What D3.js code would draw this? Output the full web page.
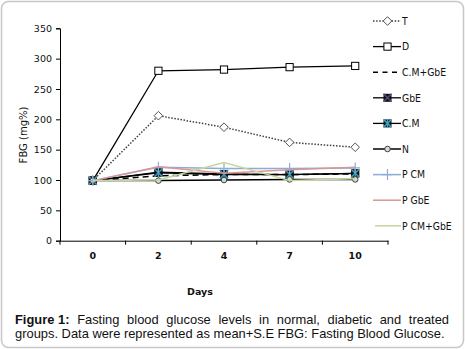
<!DOCTYPE html>
<html><head><meta charset="utf-8">
<script src="https://cdn.jsdelivr.net/npm/d3@7/dist/d3.min.js"></script>
<style>html,body{margin:0;padding:0;background:#fff;}svg{display:block;}</style>
</head><body>
<svg id="chart" width="465" height="349"></svg>
<script>
const days = ["0", "2", "4", "7", "10"];
const seriesNames = ["T", "D", "C.M+GbE", "GbE", "C.M", "N", "P CM", "P GbE", "P CM+GbE"];
const T = [99, 206, 187, 162, 154];
const D = [99, 280, 282, 286, 288];
const CMGbE = [99, 107, 109, 109, 110];
const GbE = [99, 113, 110, 109, 111];
const CM = [99, 112, 109, 109, 111];
const N = [99, 99, 100, 101, 101];
const PCM = [99, 121, 119, 119, 120];
const PGbE = [99, 122, 111, 117, 121];
const PCMGbE = [99, 100, 129, 99, 102];
const yTicks = [0, 50, 100, 150, 200, 250, 300, 350];
const yLabel = "FBG (mg%)";
const xLabel = "Days";
const captionBold = "Figure 1:";
const captionLine1 = "Fasting blood glucose levels in normal, diabetic and treated";
const captionLine2 = "groups. Data were represented as mean+S.E FBG: Fasting Blood Glucose.";

const seriesValues = [T, D, CMGbE, GbE, CM, N, PCM, PGbE, PCMGbE];
const styles = [
  {color: "#404040", width: 1.5, dash: "1.5,1.6", marker: "diamond", ldash: "1.5,1.6"},
  {color: "#000", width: 1.3, dash: null, marker: "square"},
  {color: "#000", width: 1.5, dash: "6,4", marker: null, ldash: "5,4.5"},
  {color: "#000", width: 1.3, dash: null, marker: "xsq"},
  {color: "#000", width: 1.3, dash: null, marker: "asq"},
  {color: "#000", width: 1.5, dash: null, marker: "circle"},
  {color: "#8eaad8", width: 1.5, dash: null, marker: "plus"},
  {color: "#d99694", width: 1.5, dash: null, marker: null},
  {color: "#c3d69b", width: 1.5, dash: null, marker: null}
];

const svg = d3.select("#chart");
const font = "'DejaVu Sans', Verdana, sans-serif";
const condFont = "'DejaVu Sans Condensed', 'DejaVu Sans', sans-serif";

// frame
svg.append("rect").attr("x", 1.5).attr("y", 1.5).attr("width", 462).attr("height", 346)
  .attr("rx", 7).attr("fill", "none").attr("stroke", "#c8c8c8").attr("stroke-width", 1.5);

const x = d3.scaleBand().domain(days).range([60, 388]).padding(0);
const y = d3.scaleLinear().domain([0, 350]).range([240.7, 28.3]);
const cx = d => x(d) + x.bandwidth() / 2;

// y axis
const yAxis = svg.append("g").attr("transform", "translate(60,0)")
  .call(d3.axisLeft(y).tickValues(yTicks).tickSize(4).tickPadding(4));
yAxis.select(".domain").attr("stroke", "#000");
yAxis.selectAll(".tick line").attr("stroke", "#000");
yAxis.selectAll("text").attr("font-family", font).attr("font-size", 9.5).attr("fill", "#111");

// x axis
const xAxis = svg.append("g").attr("transform", "translate(0,240.7)")
  .call(d3.axisBottom(x).tickSize(0).tickPadding(12));
xAxis.select(".domain").attr("stroke", "#000");
xAxis.selectAll("text").attr("font-family", font).attr("font-size", 9.5).attr("font-weight", "bold").attr("fill", "#111");
const bounds = days.map(d => x(d)).concat([x(days[days.length - 1]) + x.bandwidth()]);
xAxis.selectAll(".bt").data(bounds).enter().append("line")
  .attr("x1", d => d).attr("x2", d => d).attr("y1", 0).attr("y2", 4).attr("stroke", "#000");

// axis titles
svg.append("text").attr("transform", "translate(23,135) rotate(-90)")
  .attr("text-anchor", "middle").attr("dy", "0.35em")
  .attr("font-family", font).attr("font-size", 10).attr("fill", "#111").text(yLabel);
svg.append("text").attr("x", 200).attr("y", 295)
  .attr("text-anchor", "middle").attr("font-family", font).attr("font-size", 9.5)
  .attr("font-weight", "bold").attr("fill", "#111").text(xLabel);

function drawMarker(g, type, px, py, st) {
  if (type === "diamond") {
    g.append("path").attr("d", `M${px},${py-4.3}L${px+4.3},${py}L${px},${py+4.3}L${px-4.3},${py}Z`)
      .attr("fill", "#fff").attr("stroke", "#505050").attr("stroke-width", 1);
  } else if (type === "square") {
    g.append("rect").attr("x", px - 3.6).attr("y", py - 3.6).attr("width", 7.2).attr("height", 7.2)
      .attr("fill", "#fff").attr("stroke", "#000").attr("stroke-width", 1);
  } else if (type === "xsq" || type === "asq") {
    g.append("rect").attr("x", px - 4).attr("y", py - 4).attr("width", 8).attr("height", 8).attr("fill", "#111");
    const c = type === "xsq" ? "#5b4a7a" : "#3aa0c0";
    g.append("path").attr("d", `M${px-4},${py-4}L${px+4},${py+4}M${px+4},${py-4}L${px-4},${py+4}`)
      .attr("stroke", c).attr("stroke-width", 1.5);
    if (type === "asq") g.append("path").attr("d", `M${px},${py-4.5}L${px},${py+4.5}`).attr("stroke", c).attr("stroke-width", 1.3);
  } else if (type === "circle") {
    g.append("circle").attr("cx", px).attr("cy", py).attr("r", 2.8)
      .attr("fill", "#d8dcd0").attr("stroke", "#404040").attr("stroke-width", 1);
  } else if (type === "plus") {
    g.append("path").attr("d", `M${px-5},${py}L${px+5},${py}M${px},${py-5.5}L${px},${py+5.5}`)
      .attr("stroke", st.color).attr("stroke-width", 1.2);
  }
}

const line = d3.line().x((v, i) => cx(days[i])).y(v => y(v));
const plot = svg.append("g");
seriesValues.forEach((vals, si) => {
  const st = styles[si];
  const g = plot.append("g");
  g.append("path").attr("d", line(vals)).attr("fill", "none")
    .attr("stroke", st.color).attr("stroke-width", st.width)
    .attr("stroke-dasharray", st.dash);
  if (st.marker) vals.forEach((v, i) => drawMarker(g, st.marker, cx(days[i]), y(v), st));
});

// legend
const lg = svg.append("g");
seriesNames.forEach((name, i) => {
  const st = styles[i];
  const ly = 21 + i * 25.6;
  const x0 = i === 8 ? 375 : 373;
  lg.append("line").attr("x1", x0).attr("x2", 401).attr("y1", ly).attr("y2", ly)
    .attr("stroke", st.color).attr("stroke-width", st.width)
    .attr("stroke-dasharray", st.ldash || st.dash);
  if (st.marker) drawMarker(lg, st.marker, 387.5, ly, st);
  lg.append("text").attr("x", 402).attr("y", ly).attr("dy", "0.36em")
    .attr("font-family", condFont).attr("font-size", 10.3).attr("fill", "#111").text(name);
});

// caption
const capFont = "'Liberation Sans', Arial, sans-serif";
const left = 15, right = 449, line2Width = 430;
const cap = svg.append("g").attr("font-family", capFont).attr("font-size", 13).attr("fill", "#111");
// line 2 (fit size)
const l2 = cap.append("text").attr("x", left).attr("y", 338).text(captionLine2);
const w2 = l2.node().getComputedTextLength();
const capSize = 13 * line2Width / w2;
cap.attr("font-size", capSize);
// line 1 justified
const words1 = [captionBold].concat(captionLine1.split(" "));
const nodes = words1.map((w, i) => cap.append("text").attr("y", 324)
  .attr("font-weight", i < 1 ? "bold" : "normal").text(w));
const widths = nodes.map(n => n.node().getComputedTextLength());
const total = d3.sum(widths);
const gap = (right - left - total) / (words1.length - 1);
let cur = left;
nodes.forEach((n, i) => { n.attr("x", cur); cur += widths[i] + gap; });
</script>
</body></html>
